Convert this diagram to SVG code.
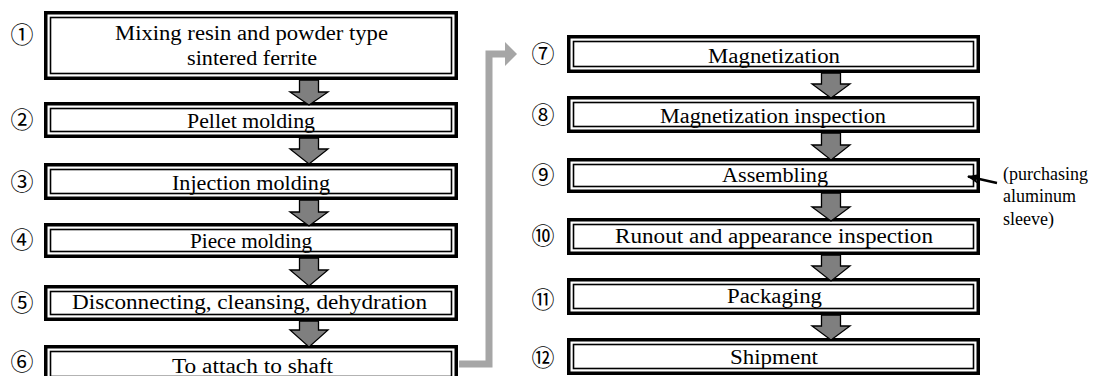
<svg xmlns="http://www.w3.org/2000/svg" width="1116" height="376" viewBox="0 0 1116 376">
  <style>
    .outer { fill: #ffffff; stroke: #000000; stroke-width: 3.5; }
    .inner { fill: none; stroke: #000000; stroke-width: 1.6; }
    .label { font-family: "Liberation Serif", "Times New Roman", serif; font-size: 20px; fill: #000000; text-anchor: middle; }
    .num { font-family: "Noto Sans CJK JP", "DejaVu Sans", sans-serif; font-size: 23px; fill: #000000; text-anchor: middle; }
    .note { font-family: "Liberation Serif", "Times New Roman", serif; font-size: 18px; fill: #000000; }
    .flow { fill: #7f7f7f; stroke: #000000; stroke-width: 1.3; stroke-linejoin: miter; }
    .jump { fill: none; stroke: #a6a6a6; stroke-width: 7; }
  </style>
  <defs>
    <marker id="supplyHead" viewBox="0 0 12 10" refX="11" refY="5" markerWidth="12" markerHeight="10" markerUnits="userSpaceOnUse" orient="auto">
      <path d="M0,0 L12,5 L0,10 L3,5 Z" fill="#000000"/>
    </marker>
  </defs>

  <rect width="1116" height="376" fill="#ffffff"/>

  <!-- left column -->
  <g id="step1">
    <rect class="outer" x="45.75" y="12.75" width="410.5" height="65.5"/>
    <rect class="inner" x="50.5" y="17.5" width="401" height="56"/>
    <text class="label" x="251.5" y="40" textLength="273" lengthAdjust="spacingAndGlyphs">Mixing resin and powder type</text>
    <text class="label" x="252" y="65" textLength="130" lengthAdjust="spacingAndGlyphs">sintered ferrite</text>
    <text class="num" x="22" y="43">①</text>
  </g>
  <g id="step2">
    <rect class="outer" x="45.75" y="103.75" width="410.5" height="32.5"/>
    <rect class="inner" x="50.5" y="108.5" width="401" height="23"/>
    <text class="label" x="251" y="128" textLength="128" lengthAdjust="spacingAndGlyphs">Pellet molding</text>
    <text class="num" x="22" y="128">②</text>
  </g>
  <g id="step3">
    <rect class="outer" x="45.75" y="164.75" width="410.5" height="33.5"/>
    <rect class="inner" x="50.5" y="169.5" width="401" height="24"/>
    <text class="label" x="251" y="190" textLength="158" lengthAdjust="spacingAndGlyphs">Injection molding</text>
    <text class="num" x="22" y="190">③</text>
  </g>
  <g id="step4">
    <rect class="outer" x="45.75" y="224.75" width="410.5" height="31.5"/>
    <rect class="inner" x="50.5" y="229.5" width="401" height="22"/>
    <text class="label" x="251" y="248" textLength="122" lengthAdjust="spacingAndGlyphs">Piece molding</text>
    <text class="num" x="22" y="248">④</text>
  </g>
  <g id="step5">
    <rect class="outer" x="45.75" y="286.75" width="410.5" height="32.5"/>
    <rect class="inner" x="50.5" y="291.5" width="401" height="23"/>
    <text class="label" x="249.5" y="309" textLength="355" lengthAdjust="spacingAndGlyphs">Disconnecting, cleansing, dehydration</text>
    <text class="num" x="22" y="311">⑤</text>
  </g>
  <g id="step6">
    <rect class="outer" x="45.75" y="346.75" width="410.5" height="34.5"/>
    <rect class="inner" x="50.5" y="351.5" width="401" height="25"/>
    <text class="label" x="252.5" y="373" textLength="161" lengthAdjust="spacingAndGlyphs">To attach to shaft</text>
    <text class="num" x="22" y="370">⑥</text>
  </g>

  <!-- right column -->
  <g id="step7">
    <rect class="outer" x="568.75" y="36.75" width="409.5" height="34.5"/>
    <rect class="inner" x="573.5" y="41.5" width="400" height="25"/>
    <text class="label" x="774" y="63" textLength="132" lengthAdjust="spacingAndGlyphs">Magnetization</text>
    <text class="num" x="543" y="62">⑦</text>
  </g>
  <g id="step8">
    <rect class="outer" x="568.75" y="97.75" width="409.5" height="33.5"/>
    <rect class="inner" x="573.5" y="102.5" width="400" height="24"/>
    <text class="label" x="773" y="123" textLength="226" lengthAdjust="spacingAndGlyphs">Magnetization inspection</text>
    <text class="num" x="543" y="123">⑧</text>
  </g>
  <g id="step9">
    <rect class="outer" x="568.75" y="159.75" width="409.5" height="31.5"/>
    <rect class="inner" x="573.5" y="164.5" width="400" height="22"/>
    <text class="label" x="775" y="182" textLength="106" lengthAdjust="spacingAndGlyphs">Assembling</text>
    <text class="num" x="543" y="183">⑨</text>
  </g>
  <g id="step10">
    <rect class="outer" x="568.75" y="219.75" width="409.5" height="33.5"/>
    <rect class="inner" x="573.5" y="224.5" width="400" height="24"/>
    <text class="label" x="774" y="243" textLength="318" lengthAdjust="spacingAndGlyphs">Runout and appearance inspection</text>
    <text class="num" x="543" y="244">⑩</text>
  </g>
  <g id="step11">
    <rect class="outer" x="568.75" y="279.75" width="409.5" height="33.5"/>
    <rect class="inner" x="573.5" y="284.5" width="400" height="24"/>
    <text class="label" x="774.5" y="303" textLength="95" lengthAdjust="spacingAndGlyphs">Packaging</text>
    <text class="num" x="543" y="308">⑪</text>
  </g>
  <g id="step12">
    <rect class="outer" x="568.75" y="339.75" width="409.5" height="33.5"/>
    <rect class="inner" x="573.5" y="344.5" width="400" height="24"/>
    <text class="label" x="774" y="364" textLength="88" lengthAdjust="spacingAndGlyphs">Shipment</text>
    <text class="num" x="543" y="366">⑫</text>
  </g>

  <g id="supply-note">
    <text class="note" x="1003" y="180">(purchasing</text>
    <text class="note" x="1003" y="202">aluminum</text>
    <text class="note" x="1003" y="225">sleeve)</text>
  </g>

  <!-- connectors -->
  <g id="connectors">
    <!-- block arrows, left column (centre x 309) -->
    <path class="flow" d="M299.5,80 H318.5 V92 H328 L309,105 L290,92 H299.5 Z"/>
    <path class="flow" d="M299.5,138 H318.5 V149 H328 L309,164 L290,149 H299.5 Z"/>
    <path class="flow" d="M299.5,200 H318.5 V212 H328 L309,226 L290,212 H299.5 Z"/>
    <path class="flow" d="M299.5,258 H318.5 V270 H328 L309,286 L290,270 H299.5 Z"/>
    <path class="flow" d="M299.5,321 H318.5 V330 H328 L309,347 L290,330 H299.5 Z"/>
    <!-- block arrows, right column (centre x 831) -->
    <path class="flow" d="M821.5,73 H840.5 V84 H850 L831,98 L812,84 H821.5 Z"/>
    <path class="flow" d="M821.5,133 H840.5 V145 H850 L831,160 L812,145 H821.5 Z"/>
    <path class="flow" d="M821.5,193 H840.5 V207 H850 L831,221 L812,207 H821.5 Z"/>
    <path class="flow" d="M821.5,255 H840.5 V266 H850 L831,281 L812,266 H821.5 Z"/>
    <path class="flow" d="M821.5,315 H840.5 V326 H850 L831,340 L812,326 H821.5 Z"/>
    <!-- jump from step 6 to step 7 -->
    <path class="jump" d="M459,364 H489 V54 H506"/>
    <polygon points="505,42 517,54 505,66" fill="#a6a6a6"/>
    <!-- supplied part into assembling -->
    <line x1="997" y1="183" x2="968" y2="176.5" stroke="#000000" stroke-width="2.5" marker-end="url(#supplyHead)"/>
  </g>
</svg>
